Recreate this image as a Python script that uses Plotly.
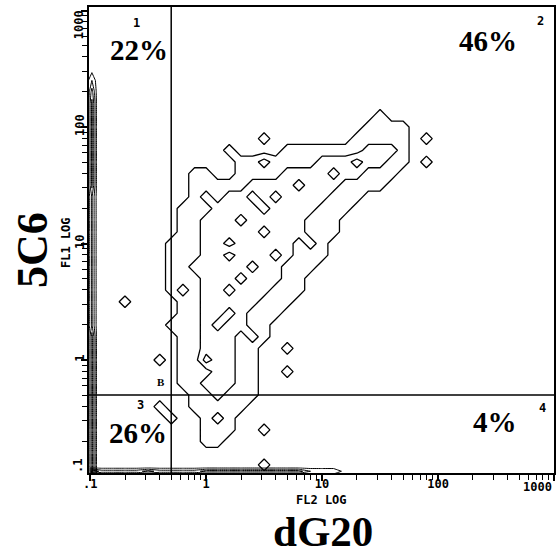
import numpy as np
import plotly.graph_objects as go

# ---------------- data ----------------
# tick values / labels
X_TICKS = [0.1, 1, 10, 100, 1000]
X_TICK_TEXT = [".1", "1", "10", "100", "1000"]
Y_TICKS = [0.1, 1, 10, 100, 1000]
Y_TICK_TEXT = [".1", "1", "10", "100", "1000"]

# quadrant gates (FL2, FL1)
GATE_X = 0.5
GATE_Y = 0.5

# quadrant percentages
QUAD_NUMBERS = ["1", "2", "3", "4"]
QUAD_PERCENT = ["22%", "46%", "26%", "4%"]

# density grid (log10 decades)
GRID_LOG_X = [round(-1.0 + 0.1 * i, 2) for i in range(33)]   # -1.0 .. 2.2
GRID_LOG_Y = [round(-1.0 + 0.1 * j, 2) for j in range(34)]   # -1.0 .. 2.3
# rows listed from top (log y = 2.3) to bottom (log y = -1.0); digits = density level
DENSITY_ROWS = [
    "000000000000000000000000000000000",
    "000000000000000000000000000000000",
    "000000000000000000000000010000000",
    "000000000000000000000000111100000",
    "000000000000000100000001111101000",
    "000000000000100001111111222100000",
    "000000000000011211112223221101000",
    "000000000110011112222122111000000",
    "000000000111112222322211110000000",
    "000000000121223212222111000000000",
    "000000001112222322221110000000000",
    "000000001122232222211100000000000",
    "000000001122222122211100000000000",
    "000000011122322222121000000000000",
    "000000011122122232111000000000000",
    "000000011222223221110000000000000",
    "000000011122212221100000000000000",
    "000000012122322211100000000000000",
    "000100001122222111000000000000000",
    "000000001122321110000000000000000",
    "000000011123221100000000000000000",
    "000000001122212100000000000000000",
    "000000001122211001000000000000000",
    "000000101132211000000000000000000",
    "000000001112211001000000000000000",
    "000000001122211000000000000000000",
    "000000000112111000000000000000000",
    "000000100111110000000000000000000",
    "000000010012100000000000000000000",
    "000000000011100100000000000000000",
    "000000000011000000000000000000000",
    "000000000000000000000000000000000",
    "000000000000000100000000000000000",
    "000000000000000000000000000000000",
]

# debris spike along the FL1 axis (levels per log-y row, bottom to top)
SPIKE_LOG_X = [-1.03, -0.985, -0.94]
SPIKE_LOG_Y = [round(-1.0 + 0.1 * j, 2) for j in range(37)]
SPIKE_LEVELS = [4, 4, 4, 4, 4, 4, 4, 4, 4, 4, 4, 4, 4,
                2.6, 2.6, 2.6, 2.6, 2.6, 2.6, 2.6, 2.6, 2.6, 2.6, 2.6, 2.6,
                3.8, 3.8, 3.8, 3.8, 3.8, 3.8, 3.8, 3.8,
                3.0, 1.5, 0, 0]

# debris band along the FL2 axis (levels per log-x column)
BAND_LOG_Y = [-0.99, -0.955, -0.92]
BAND_LOG_X = [round(-1.0 + 0.1 * i, 2) for i in range(26)]
BAND_LEVELS = [4, 2, 2, 2, 2, 3, 2, 2, 2, 2,
               3, 3, 3, 3, 3, 3, 3, 3, 3,
               1.5, 1.5, 1.5, 0, 0, 0, 0]

# ---------------- figure ----------------
X_RANGE = [-1.01, 3.0]
Y_RANGE = [-0.97, 3.03]

rows = [r.ljust(33, "0")[:33] for r in DENSITY_ROWS[::-1]]
Z = np.array([[int(c) for c in r] for r in rows], dtype=float)

black = [[0, "black"], [1, "black"]]
cont = dict(coloring="lines", start=0.5, end=3.5, size=1)

fig = go.Figure()
fig.add_trace(go.Contour(
    x=10 ** np.array(GRID_LOG_X), y=10 ** np.array(GRID_LOG_Y), z=Z,
    autocontour=False, contours=cont, colorscale=black, showscale=False,
    line=dict(width=1.3, smoothing=0), hoverinfo="skip"))

spike_z = np.array([[0, v, 0] for v in SPIKE_LEVELS], dtype=float)
fig.add_trace(go.Contour(
    x=10 ** np.array(SPIKE_LOG_X), y=10 ** np.array(SPIKE_LOG_Y), z=spike_z,
    autocontour=False, contours=cont, colorscale=black, showscale=False,
    line=dict(width=1.0, smoothing=0), hoverinfo="skip"))

band_z = np.array([[0] * len(BAND_LEVELS), BAND_LEVELS, [0] * len(BAND_LEVELS)], dtype=float)
fig.add_trace(go.Contour(
    x=10 ** np.array(BAND_LOG_X), y=10 ** np.array(BAND_LOG_Y), z=band_z,
    autocontour=False, contours=cont, colorscale=black, showscale=False,
    line=dict(width=1.0, smoothing=0), hoverinfo="skip"))

# quadrant gate lines
fig.add_trace(go.Scatter(x=[GATE_X, GATE_X], y=[10 ** Y_RANGE[0], 10 ** Y_RANGE[1]],
                         mode="lines", line=dict(color="black", width=1.5), hoverinfo="skip"))
fig.add_trace(go.Scatter(x=[10 ** X_RANGE[0], 10 ** X_RANGE[1]], y=[GATE_Y, GATE_Y],
                         mode="lines", line=dict(color="black", width=1.5), hoverinfo="skip"))

minor_vals = [m * 10.0 ** k for k in range(-1, 3) for m in range(2, 10)]
tickfont = dict(family="DejaVu Sans Mono", size=12, color="black", weight="bold")
axis_common = dict(
    type="log", showline=True, linecolor="black", linewidth=2, mirror=True,
    ticks="outside", ticklen=6, tickwidth=1.5, tickcolor="black",
    showgrid=False, zeroline=False, tickfont=tickfont,
    minor=dict(tickvals=minor_vals, ticks="outside", ticklen=5, tickwidth=1.2,
               tickcolor="black", showgrid=False),
)
fig.update_xaxes(range=X_RANGE, tickvals=X_TICKS,
                 ticktext=X_TICK_TEXT[:-1] + [""], ticklabelstandoff=-7, **axis_common)
fig.update_yaxes(range=Y_RANGE, tickvals=Y_TICKS,
                 ticktext=[""] + Y_TICK_TEXT[1:-1] + [""], tickangle=-90,
                 ticklabelstandoff=-8, **axis_common)

serif_big = dict(family="Liberation Serif", size=43, color="black", weight="bold")
serif_left = dict(family="Liberation Serif", size=44, color="black", weight="bold")
serif_pct = dict(family="Liberation Serif", size=29, color="black", weight="bold")
mono_small = dict(family="DejaVu Sans Mono", size=12, color="black", weight="bold")
mono_title = dict(family="DejaVu Sans Mono", size=12, color="black", weight="bold")

ann = []
def A(text, x, y, font, angle=0, xa="center", ya="middle"):
    ann.append(dict(text=text, x=x, y=y, xref="paper", yref="paper", showarrow=False,
                    font=font, textangle=angle, xanchor=xa, yanchor=ya))

# edge tick labels
A(X_TICK_TEXT[-1], 1.0, -0.030, tickfont, xa="right")
A(Y_TICK_TEXT[-1], -0.0214, 0.961, tickfont, angle=-90)
A(Y_TICK_TEXT[0], -0.0235, 0.015, tickfont, angle=-90)
# axis titles
A("FL2 LOG", 0.501, -0.058, mono_title)
A("dG20", 0.503, -0.1266, serif_big)
A("FL1 LOG", -0.049, 0.494, mono_title, angle=-90)
A("5C6", -0.12, 0.479, serif_left, angle=-90)
# quadrant labels
qpos_num = [(0.103, 0.966), (0.970, 0.970), (0.111, 0.146), (0.976, 0.140)]
qpos_pct = [(0.107, 0.908), (0.857, 0.927), (0.105, 0.085), (0.874, 0.109)]
for n, p, (nx, ny), (px, py) in zip(QUAD_NUMBERS, QUAD_PERCENT, qpos_num, qpos_pct):
    A(n, nx, ny, mono_small)
    A(p, px, py, serif_pct)
A("B", 0.154, 0.195, dict(family="Liberation Serif", size=11, color="black", weight="bold"))

fig.update_layout(
    width=560, height=556, margin=dict(l=89, r=4, t=7, b=83),
    paper_bgcolor="white", plot_bgcolor="white", showlegend=False,
    annotations=ann,
)

fig.write_html("out.html")
